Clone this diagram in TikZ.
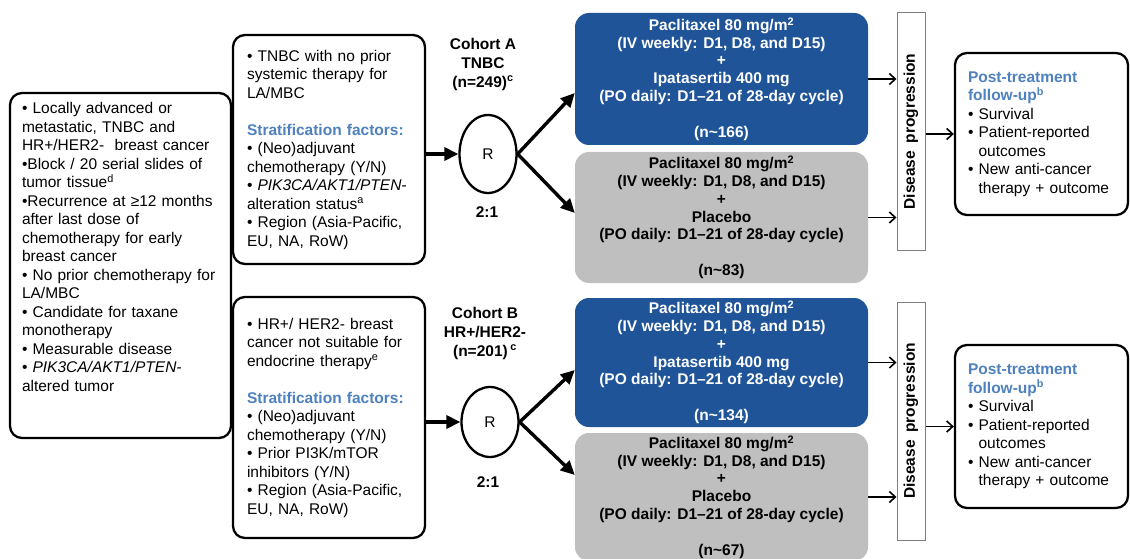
\documentclass[tikz,border=0pt]{standalone}
\usepackage{fontspec}
\setmainfont{Liberation Sans}
\usepackage{xcolor}
\usepackage{tikz}
\usetikzlibrary{arrows.meta,shapes.geometric}
\definecolor{armblue}{HTML}{1F5499}
\definecolor{armgray}{HTML}{BFBFBF}
\definecolor{strat}{HTML}{4F81BD}
\definecolor{dpline}{HTML}{808080}
\tikzset{
  every node/.style={font=\fontsize{15.5}{18.5}\selectfont},
  infobox/.style={draw=black, fill=white, line width=2.3pt, rounded corners=12pt, align=left, inner xsep=14pt, inner ysep=4pt},
  armbox/.style={rounded corners=14pt, align=center, minimum width=293pt, inner sep=2pt, font=\fontsize{15.5}{17.8}\selectfont\bfseries},
  bluearm/.style={armbox, fill=armblue, text=white},
  grayarm/.style={armbox, fill=armgray, text=black},
  rand/.style={ellipse, draw=black, line width=2.3pt, minimum width=57pt, inner sep=0pt},
  cohlab/.style={align=center, font=\fontsize{15.5}{19}\selectfont\bfseries},
  dpbox/.style={draw=dpline, line width=1pt, rotate=90, minimum width=237pt, minimum height=28pt, inner sep=0pt, font=\fontsize{15.5}{18}\selectfont\bfseries},
  bigarrow/.style={line width=3.4pt, -{Triangle[length=14pt,width=13pt]}},
  smallarrow/.style={line width=1.6pt, -{Straight Barb[length=6pt,width=11pt]}}
}
\newcommand{\strathead}{\textcolor{strat}{\bfseries Stratification factors:}}
\newcommand{\fuhead}[1]{\textcolor{strat}{\bfseries #1}}

\begin{document}
\begin{tikzpicture}[x=1pt, y=-1pt]
  \useasboundingbox (0,0) rectangle (1130,559);

  % eligibility
  \node[infobox, inner xsep=12pt, text width=197pt, minimum height=345pt] (elig) at (120.5,265.5) {%
    • Locally advanced or\\
    metastatic, TNBC and\\
    HR+/HER2-\ \ breast cancer\\
    •Block / 20 serial slides of\\
    tumor tissue\textsuperscript{d}\\
    •Recurrence at ≥12 months\\
    after last dose of\\
    chemotherapy for early\\
    breast cancer\\
    • No prior chemotherapy for\\
    LA/MBC\\
    • Candidate for taxane\\
    monotherapy\\
    • Measurable disease\\
    • \textit{PIK3CA/AKT1/PTEN-}\\
    altered tumor\\ \mbox{}\\ \mbox{}};

  % cohorts
  \node[infobox, text width=164pt, minimum height=229pt] (cohA) at (329,149.5) {%
    • TNBC with no prior\\
    systemic therapy for\\
    LA/MBC\\[18.5pt]
    \strathead\\
    • (Neo)adjuvant\\
    chemotherapy (Y/N)\\
    • \textit{PIK3CA/AKT1/PTEN-}\\
    alteration status\textsuperscript{a}\\
    • Region (Asia-Pacific,\\
    EU, NA, RoW)};
  \node[infobox, text width=164pt, minimum height=241pt] (cohB) at (329,417.5) {%
    • HR+/ HER2- breast\\
    cancer not suitable for\\
    endocrine therapy\textsuperscript{e}\\[18.5pt]
    \strathead\\
    • (Neo)adjuvant\\
    chemotherapy (Y/N)\\
    • Prior PI3K/mTOR\\
    inhibitors (Y/N)\\
    • Region (Asia-Pacific,\\
    EU, NA, RoW)};

  \node[cohlab] (labA) at (483,64) {Cohort A\\TNBC\\(n=249)\textsuperscript{c}};
  \node[rand, minimum height=78pt] (RA) at (488,154) {R};
  \node[cohlab] (ratioA) at (487,212) {2:1};

  \node[cohlab] (labB) at (485,333) {Cohort B\\HR+/HER2-\\(n=201)\,\textsuperscript{c}};
  \node[rand, minimum height=70pt] (RB) at (490,422) {R};
  \node[cohlab] (ratioB) at (488,482) {2:1};

  % arms
  \node[bluearm, minimum height=132pt] (armA1) at (721.5,79) {Paclitaxel 80 mg/m\textsuperscript{2}\\(IV weekly: D1, D8, and D15)\\+\\Ipatasertib 400 mg\\(PO daily: D1--21 of 28-day cycle)\\[18pt](n\textasciitilde166)};
  \node[grayarm, minimum height=131pt] (armA2) at (721.5,217.5) {Paclitaxel 80 mg/m\textsuperscript{2}\\(IV weekly: D1, D8, and D15)\\+\\Placebo\\(PO daily: D1--21 of 28-day cycle)\\[18pt](n\textasciitilde83)};
  \node[bluearm, minimum height=129pt] (armB1) at (721.5,362.5) {Paclitaxel 80 mg/m\textsuperscript{2}\\(IV weekly: D1, D8, and D15)\\+\\Ipatasertib 400 mg\\(PO daily: D1--21 of 28-day cycle)\\[18pt](n\textasciitilde134)};
  \node[grayarm, minimum height=128pt] (armB2) at (721.5,497) {Paclitaxel 80 mg/m\textsuperscript{2}\\(IV weekly: D1, D8, and D15)\\+\\Placebo\\(PO daily: D1--21 of 28-day cycle)\\[18pt](n\textasciitilde67)};

  % progression
  \node[dpbox] (dpA) at (911,131.5) {Disease\enspace progression};
  \node[dpbox, minimum width=238pt] (dpB) at (911,421) {Disease\enspace progression};

  % follow-up
  \node[infobox, inner xsep=13pt, text width=147pt, minimum height=162pt] (fuA) at (1041.5,134) {%
    \fuhead{Post-treatment}\\
    \fuhead{follow-up\textsuperscript{b}}\\
    • Survival\\
    • Patient-reported\\
    \phantom{• }outcomes\\
    • New anti-cancer\\
    \phantom{• }therapy + outcome};
  \node[infobox, inner xsep=13pt, text width=147pt, minimum height=163pt] (fuB) at (1041.5,426.5) {%
    \fuhead{Post-treatment}\\
    \fuhead{follow-up\textsuperscript{b}}\\
    • Survival\\
    • Patient-reported\\
    \phantom{• }outcomes\\
    • New anti-cancer\\
    \phantom{• }therapy + outcome};

  % connectors
  \draw[bigarrow] (cohA.east |- RA.west) -- (RA.west);
  \draw[bigarrow] (RA.east) -- ([yshift=-14pt]armA1.west);
  \draw[bigarrow] (RA.east) -- ([yshift=4.5pt]armA2.west);
  \draw[bigarrow] (cohB.east |- RB.west) -- (RB.west);
  \draw[bigarrow] (RB.east) -- ([yshift=-7.5pt]armB1.west);
  \draw[bigarrow] (RB.east) -- ([yshift=22pt]armB2.west);

  \draw[smallarrow] (armA1.east) -- (armA1.east -| dpA.north);
  \draw[smallarrow] (armA2.east) -- (armA2.east -| dpA.north);
  \draw[smallarrow] (armB1.east) -- (armB1.east -| dpB.north);
  \draw[smallarrow] (armB2.east) -- (armB2.east -| dpB.north);
  \draw[smallarrow] (dpA.south |- fuA.west) -- (fuA.west);
  \draw[smallarrow] (dpB.south |- fuB.west) -- (fuB.west);
\end{tikzpicture}
\end{document}
